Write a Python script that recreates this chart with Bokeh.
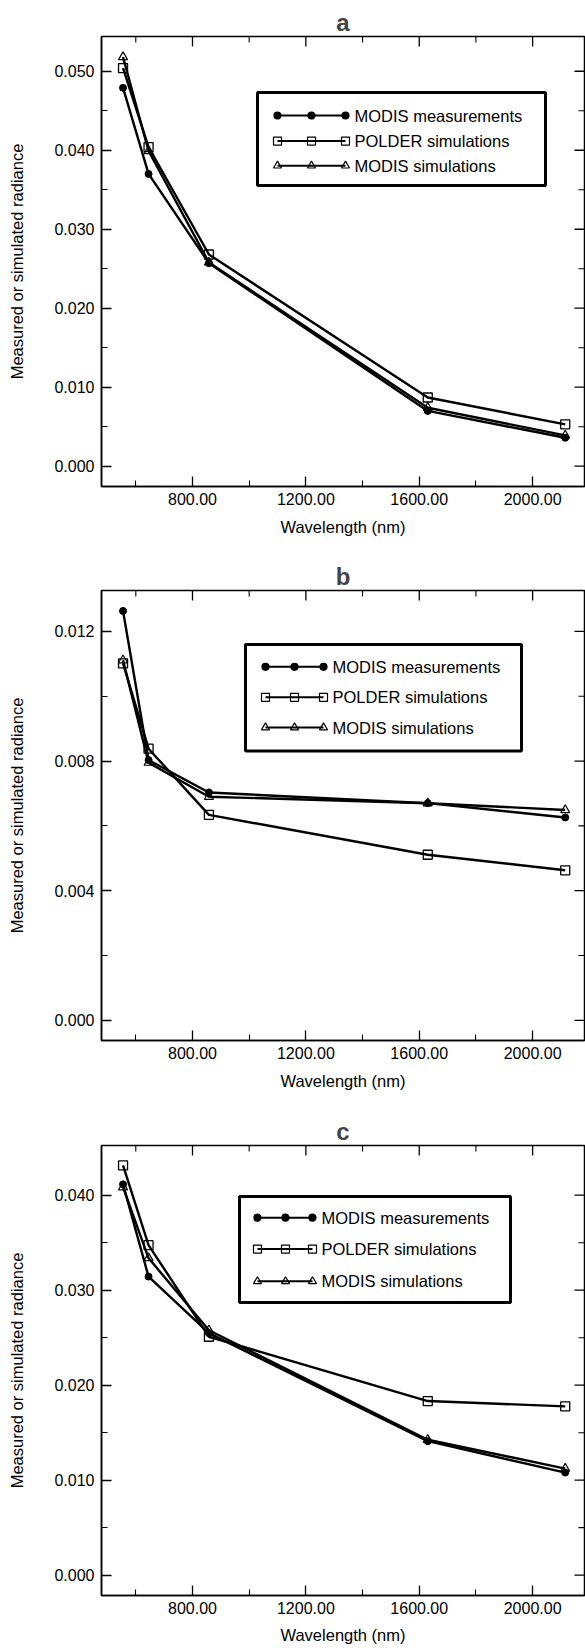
from bokeh.plotting import figure
from bokeh.layouts import column
from bokeh.models import Range1d, FixedTicker, NumeralTickFormatter
from bokeh.core.properties import value
from bokeh.embed import file_html
from bokeh.resources import INLINE

# ---------------- data ----------------
wavelength = [555, 645, 858, 1630, 2115]
series_names = ["MODIS measurements", "POLDER simulations", "MODIS simulations"]
panel_letters = ["a", "b", "c"]

a_modis_meas = [0.0479, 0.0370, 0.0257, 0.0070, 0.0036]
a_polder_sim = [0.0504, 0.0404, 0.0268, 0.0087, 0.0053]
a_modis_sim = [0.0518, 0.0399, 0.0258, 0.0074, 0.0039]

b_modis_meas = [0.01263, 0.00803, 0.00703, 0.00670, 0.00626]
b_polder_sim = [0.01101, 0.00838, 0.00634, 0.00511, 0.00463]
b_modis_sim = [0.01111, 0.00795, 0.00690, 0.00670, 0.00649]

c_modis_meas = [0.04114, 0.03143, 0.02548, 0.01411, 0.01080]
c_polder_sim = [0.04313, 0.03474, 0.02510, 0.01833, 0.01777]
c_modis_sim = [0.04084, 0.03338, 0.02578, 0.01426, 0.01122]

x_major_ticks = [800, 1200, 1600, 2000]
x_minor_ticks = [600, 1000, 1400, 1800]

a_y_major = [0.0, 0.01, 0.02, 0.03, 0.04, 0.05]
a_y_minor = [0.005, 0.015, 0.025, 0.035, 0.045]
b_y_major = [0.0, 0.004, 0.008, 0.012]
b_y_minor = [0.002, 0.006, 0.010]
c_y_major = [0.0, 0.01, 0.02, 0.03, 0.04]
c_y_minor = [0.005, 0.015, 0.025, 0.035]

FONT = "Liberation Sans"
FIG_W, BORDER_L, BORDER_R = 585, 101, 1
FW, FH = FIG_W - BORDER_L - BORDER_R, 450
X_START, X_END = 479, 2183
MAJ_LEN, MIN_LEN = 10, 6


def make_panel(letter, meas, polder, sim, y_range, y_major, y_minor,
               height, top_border, x_label_standoff, legend_geom):
    ys, ye = y_range
    p = figure(width=FIG_W, height=height, output_backend="svg",
               toolbar_location=None, min_border_left=BORDER_L,
               min_border_right=BORDER_R, min_border_top=top_border,
               min_border_bottom=height - top_border - FH,
               x_range=Range1d(X_START, X_END), y_range=Range1d(ys, ye))
    p.xgrid.visible = False
    p.ygrid.visible = False
    p.outline_line_color = "black"
    p.outline_line_width = 1.5
    p.background_fill_color = "white"
    p.border_fill_color = "white"

    p.title.text = letter
    p.title.text_font = FONT
    p.title.text_font_size = "24px"
    p.title.text_font_style = "bold"
    p.title.align = "center"
    p.title.standoff = 2

    xt = FixedTicker(ticks=x_major_ticks, minor_ticks=x_minor_ticks)
    yt = FixedTicker(ticks=y_major, minor_ticks=y_minor)

    for ax, tk, fmt in ((p.xaxis[0], xt, "0.00"), (p.yaxis[0], yt, "0.000")):
        ax.ticker = tk
        ax.formatter = NumeralTickFormatter(format=fmt)
        ax.major_tick_in = MAJ_LEN
        ax.major_tick_out = 0
        ax.minor_tick_in = MIN_LEN
        ax.minor_tick_out = 0
        ax.major_label_text_font = FONT
        ax.major_label_text_font_size = "16px"
        ax.major_label_text_color = "black"
        ax.axis_label_text_font = FONT
        ax.axis_label_text_font_size = "16.5px"
        ax.axis_label_text_font_style = "normal"
        ax.axis_label_text_color = "black"
        ax.axis_line_color = "black"
        ax.axis_line_width = 1.5
        ax.major_tick_line_width = 1.3
        ax.minor_tick_line_width = 1.1
    p.xaxis[0].axis_label = "Wavelength (nm)"
    p.xaxis[0].major_label_standoff = 6
    p.xaxis[0].axis_label_standoff = x_label_standoff
    p.yaxis[0].axis_label = "Measured or simulated radiance"
    p.yaxis[0].major_label_standoff = 7
    p.yaxis[0].axis_label_standoff = 25

    # mirrored ticks on the top and right frame edges
    ky = (ye - ys) / FH
    kx = (X_END - X_START) / FW
    p.segment(x0=x_major_ticks, x1=x_major_ticks, y0=[ye] * len(x_major_ticks),
              y1=[ye - MAJ_LEN * ky] * len(x_major_ticks),
              line_color="black", line_width=1.3)
    p.segment(x0=x_minor_ticks, x1=x_minor_ticks, y0=[ye] * len(x_minor_ticks),
              y1=[ye - MIN_LEN * ky] * len(x_minor_ticks),
              line_color="black", line_width=1.1)
    p.segment(x0=[X_END] * len(y_major), x1=[X_END - MAJ_LEN * kx] * len(y_major),
              y0=y_major, y1=y_major, line_color="black", line_width=1.3)
    p.segment(x0=[X_END] * len(y_minor), x1=[X_END - MIN_LEN * kx] * len(y_minor),
              y0=y_minor, y1=y_minor, line_color="black", line_width=1.1)

    # data
    for vals in (meas, polder, sim):
        p.line(wavelength, vals, line_color="black", line_width=2.4)
    p.scatter(wavelength, meas, marker="circle", size=7,
              fill_color="black", line_color="black")
    p.scatter(wavelength, polder, marker="square", size=9,
              fill_color=None, line_color="black", line_width=1.3)
    p.scatter(wavelength, sim, marker="triangle", size=9,
              fill_color=None, line_color="black", line_width=1.2)

    # legend (positions given in frame pixels, converted to data space)
    def dx(px):
        return X_START + px * kx

    def dy(py):
        return ye - py * ky

    (bl, br, bt, bb), rows, mxs, tx = legend_geom
    p.quad(left=[dx(bl)], right=[dx(br)], top=[dy(bt)], bottom=[dy(bb)],
           fill_color="white", line_color="black", line_width=3)
    markers = [("circle", "black", 7), ("square", None, 8), ("triangle", None, 8)]
    for (mk, fc, sz), ry, name in zip(markers, rows, series_names):
        p.line([dx(mxs[0]), dx(mxs[2])], [dy(ry), dy(ry)],
               line_color="black", line_width=2)
        p.scatter([dx(m) for m in mxs], [dy(ry)] * 3, marker=mk, size=sz,
                  fill_color=fc, line_color="black", line_width=1.2)
        p.text([dx(tx)], [dy(ry)], text=[name], text_font=value(FONT),
               text_font_size=value("16.5px"), text_baseline="middle",
               text_align="left", text_color="black")
    return p


pa = make_panel("a", a_modis_meas, a_polder_sim, a_modis_sim,
                (-0.00257, 0.0544), a_y_major, a_y_minor, 554, 36, 10,
                ((156, 444, 56, 149), (79, 104.6, 129.2), (176, 210, 244), 253))
pb = make_panel("b", b_modis_meas, b_polder_sim, b_modis_sim,
                (-0.00062, 0.01326), b_y_major, b_y_minor, 554, 36, 10,
                ((144, 420, 54, 160.5), (76.3, 106.8, 137), (164, 193, 222), 231))
pc = make_panel("c", c_modis_meas, c_polder_sim, c_modis_sim,
                (-0.00214, 0.04523), c_y_major, c_y_minor, 542, 37, 9,
                ((138, 409, 51, 157), (72.2, 103.6, 135.8), (156, 184, 211), 220))

layout = column(pa, pb, pc, spacing=0)
open("out.html", "w").write(file_html(layout, INLINE))
